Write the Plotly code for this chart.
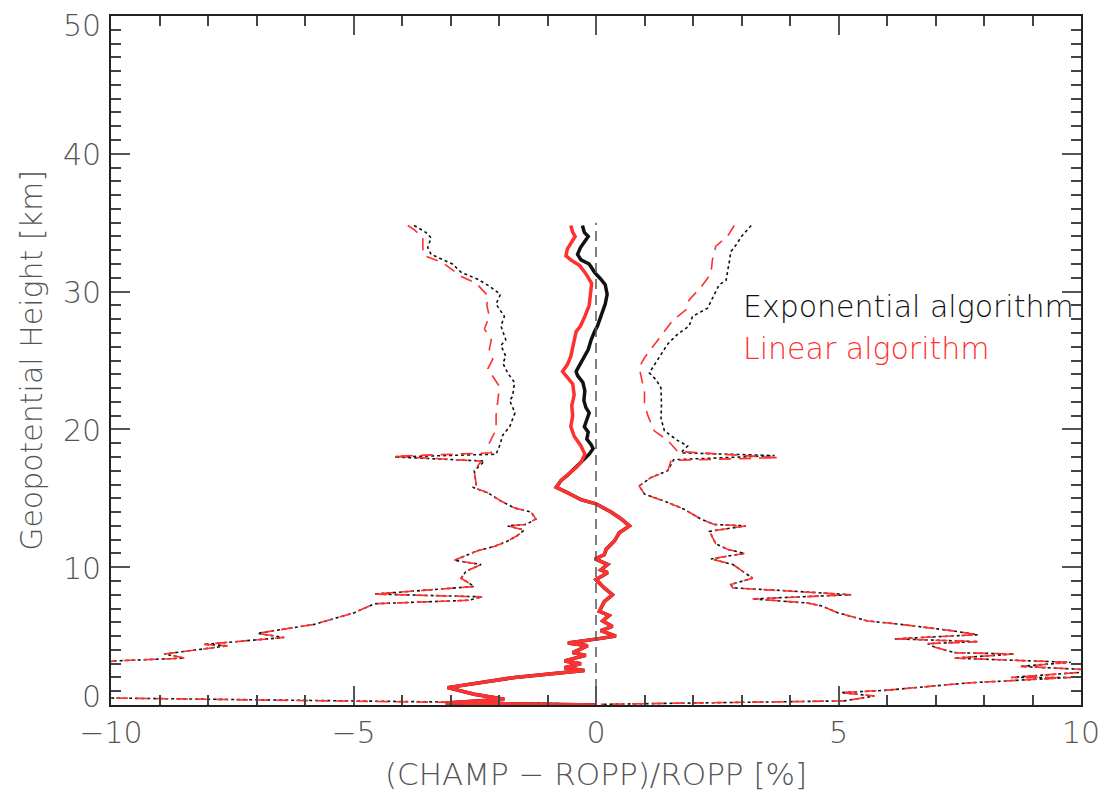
import plotly.graph_objects as go

# ---------------- data ----------------
# Mean profiles, upper part (differs between algorithms)
exp_mean_up_x = [-0.28,-0.24,-0.16,-0.32,-0.38,-0.31,-0.14,-0.03,0.10,0.19,0.23,0.19,0.10,0.03,-0.03,-0.10,-0.16,-0.24,-0.31,-0.41,-0.38,-0.27,-0.23,-0.25,-0.21,-0.14,-0.19,-0.24,-0.16,-0.19,-0.10,-0.06,-0.14]
exp_mean_up_y = [34.8,34.3,34.0,33.2,32.7,32.3,32.0,31.4,30.9,30.5,29.8,29.1,28.2,27.5,27.1,26.5,25.8,25.3,24.8,24.2,23.9,23.4,22.8,22.1,21.6,21.2,20.7,20.2,19.8,19.3,18.9,18.6,18.2]
lin_mean_up_x = [-0.52,-0.48,-0.43,-0.59,-0.62,-0.52,-0.34,-0.21,-0.09,-0.12,-0.14,-0.23,-0.32,-0.41,-0.46,-0.52,-0.59,-0.69,-0.62,-0.48,-0.45,-0.50,-0.48,-0.52,-0.45,-0.31,-0.23]
lin_mean_up_y = [34.8,34.3,34.0,33.1,32.6,32.3,31.9,31.3,30.6,29.7,29.0,28.2,27.5,27.1,26.3,25.3,24.7,24.2,23.9,23.3,22.5,21.7,21.0,20.2,19.5,18.8,18.2]
# Mean profile, lower part (both algorithms nearly identical)
mean_low_x = [-0.31,-0.42,-0.58,-0.72,-0.82,-0.58,-0.31,0.0,0.31,0.52,0.69,0.48,0.38,0.21,0.17,-0.02,0.24,0.10,0.24,0.0,0.17,0.34,0.17,0.07,0.27,0.14,0.34,0.10,0.41,0.03,-0.58,-0.17,-0.48,-0.21,-0.65,-0.31,-0.65,-0.24,-1.68,-3.06,-2.51,-1.89,-3.1,0.0]
mean_low_y = [17.6,17.2,16.7,16.3,15.8,15.4,14.9,14.6,14.0,13.5,13.0,12.5,11.9,11.3,10.9,10.6,10.2,9.8,9.6,9.1,8.5,8.0,7.5,6.8,6.5,6.1,5.7,5.4,5.0,4.8,4.5,4.3,3.8,3.6,3.2,3.0,2.7,2.5,2.0,1.26,0.78,0.41,0.15,0.0]

# Standard deviation envelopes, left side
exp_left_up_x = [-3.75,-3.51,-3.40,-3.47,-3.40,-3.16,-2.96,-2.78,-2.44,-2.20,-1.97,-2.06,-1.89,-1.96,-1.86,-1.96,-1.86,-1.92,-1.82,-1.68,-1.72,-1.78,-1.67,-1.78,-1.92,-1.99,-2.06,-4.16,-2.30]
exp_left_up_y = [34.8,34.3,33.9,33.2,32.7,32.3,32.0,31.4,30.9,30.4,29.8,29.1,28.2,27.5,26.5,26.1,25.3,24.8,24.1,23.4,22.4,22.1,21.2,20.2,19.6,18.8,18.2,18.0,17.7]
lin_left_up_x = [-3.88,-3.75,-3.57,-3.57,-3.54,-3.16,-2.78,-2.47,-2.23,-2.25,-2.20,-2.30,-2.16,-2.20,-2.13,-2.23,-1.99,-2.03,-2.06,-2.06,-2.20,-2.16,-4.16,-2.37]
lin_left_up_y = [34.8,34.5,33.9,33.1,32.6,32.1,31.1,30.6,29.7,29.0,28.2,27.3,26.5,25.8,25.1,24.4,23.1,21.9,21.0,20.0,19.0,18.3,18.05,17.7]
left_low_x = [-2.51,-2.47,-2.54,-2.23,-1.96,-1.68,-1.34,-1.24,-1.44,-1.82,-1.48,-1.62,-1.82,-2.10,-2.44,-2.92,-2.37,-2.68,-2.78,-2.51,-4.57,-2.35,-2.62,-4.57,-4.98,-5.81,-6.98,-6.43,-8.08,-7.59,-8.90,-8.49,-9.93,-10.6,-10.6,-9.93,-1.96,0.0]
left_low_y = [17.0,16.0,15.8,15.4,14.8,14.3,14.0,13.5,13.1,13.0,12.7,12.3,11.9,11.5,11.2,10.5,10.2,9.7,9.2,8.6,8.05,7.85,7.6,7.35,6.7,5.85,5.2,4.9,4.4,4.3,3.7,3.4,3.2,2.9,0.6,0.5,0.17,0.05]

# Standard deviation envelopes, right side
exp_right_up_x = [3.20,3.0,2.89,2.78,2.75,2.71,2.68,2.54,2.37,2.30,1.99,1.92,1.68,1.48,1.17,1.10,1.24,1.34,1.35,1.34,1.41,1.68,1.89,1.75,3.68,1.60]
exp_right_up_y = [34.8,34.0,33.4,32.9,32.2,31.4,30.8,30.5,29.3,28.8,28.2,27.5,26.9,26.2,24.5,24.1,23.6,23.0,21.8,20.8,19.9,19.2,18.8,18.3,18.1,17.8]
lin_right_up_x = [2.85,2.71,2.47,2.40,2.37,2.16,1.92,1.86,1.58,1.34,1.0,0.89,0.93,1.0,1.0,1.07,1.20,1.48,1.68,3.75,1.55]
lin_right_up_y = [34.8,34.0,33.3,32.3,31.3,30.3,29.4,28.7,27.9,26.8,25.2,24.5,23.8,22.7,21.8,21.0,19.9,19.2,18.4,17.95,17.75]
right_low_x = [1.48,1.13,0.89,1.0,1.48,1.82,2.16,2.44,3.09,2.34,2.47,2.71,3.06,2.37,2.82,3.23,2.78,2.82,3.88,5.26,3.23,4.36,4.64,4.98,5.60,6.29,7.32,7.87,6.15,7.87,6.84,6.98,7.39,8.62,7.39,8.76,9.79,8.76,10.5,8.56,9.79,7.66,5.95,5.05,5.74,5.12,0.1]
right_low_y = [17.0,16.5,15.9,15.3,14.7,14.2,13.5,13.1,13.0,12.6,11.7,11.3,11.0,10.6,10.2,9.2,8.75,8.5,8.3,8.0,7.7,7.4,7.2,6.7,6.1,5.85,5.4,5.1,4.8,4.6,4.45,4.2,3.8,3.7,3.4,3.2,3.1,2.8,2.5,2.0,2.0,1.6,1.06,0.9,0.65,0.3,0.05]

x_ticks = [-10, -5, 0, 5, 10]
x_ticktext = ["\u221210", "\u22125", "0", "5", "10"]
y_ticks = [0, 10, 20, 30, 40, 50]
legend_labels = ["Exponential algorithm", "Linear algorithm"]

BLACK = "#111111"
RED = "#ff3030"
GREY = "#555555"
FONT = "DejaVu Sans"
W = 200  # extra-light weight

fig = go.Figure()

# std envelopes
std_specs = [
    (exp_left_up_x + left_low_x, exp_left_up_y + left_low_y, BLACK, "dot"),
    (exp_right_up_x + right_low_x, exp_right_up_y + right_low_y, BLACK, "dot"),
    (lin_left_up_x + left_low_x, lin_left_up_y + left_low_y, RED, "12px,8px"),
    (lin_right_up_x + right_low_x, lin_right_up_y + right_low_y, RED, "12px,8px"),
]
for xs, ys, col, dash in std_specs:
    fig.add_trace(go.Scatter(x=xs, y=ys, mode="lines",
                             line=dict(color=col, width=1.6, dash=dash),
                             showlegend=False, hoverinfo="skip"))

# mean lines
fig.add_trace(go.Scatter(x=exp_mean_up_x + mean_low_x, y=exp_mean_up_y + mean_low_y,
                         mode="lines", line=dict(color=BLACK, width=3.5),
                         showlegend=False))
fig.add_trace(go.Scatter(x=lin_mean_up_x + mean_low_x, y=lin_mean_up_y + mean_low_y,
                         mode="lines", line=dict(color=RED, width=3.5),
                         showlegend=False))

# zero line
fig.add_shape(type="line", x0=0, x1=0, y0=0, y1=35, xref="x", yref="y",
              line=dict(color=GREY, width=1.5, dash="10px,6px"))

# y tick labels (end labels pulled inward, as in the reference)
for v in y_ticks:
    shift = -9 if v == y_ticks[-1] else (9 if v == y_ticks[0] else -1)
    fig.add_annotation(x=0, y=v, xref="paper", yref="y", text=str(v),
                       showarrow=False, xanchor="right", yanchor="middle",
                       xshift=-8, yshift=shift,
                       font=dict(family=FONT, size=30, color=GREY, weight=W))

# legend text
fig.add_annotation(x=0.649, y=28.9, xref="paper", yref="y", text=legend_labels[0],
                   showarrow=False, xanchor="left", yanchor="middle",
                   font=dict(family=FONT, size=30, color="#111111", weight=W))
fig.add_annotation(x=0.649, y=25.9, xref="paper", yref="y", text=legend_labels[1],
                   showarrow=False, xanchor="left", yanchor="middle",
                   font=dict(family=FONT, size=30, color=RED, weight=W))

axis_common = dict(
    showline=True, linecolor="#222222", linewidth=1.5, mirror="allticks",
    ticks="inside", ticklen=19, tickwidth=1.5, tickcolor=GREY,
    showgrid=False, zeroline=False, automargin=False,
    ticklabeloverflow="allow",
)
fig.update_xaxes(range=[-10, 10], tickvals=x_ticks, ticktext=x_ticktext,
                 minor=dict(dtick=1, ticklen=10, tickwidth=1.5, tickcolor="#444444", ticks="inside"),
                 tickfont=dict(family=FONT, size=30, color=GREY, weight=W),
                 title=dict(text="(CHAMP \u2212 ROPP)/ROPP [%]", standoff=15,
                            font=dict(family=FONT, size=31, color=GREY, weight=W)),
                 ticklabelstandoff=0,
                 **axis_common)
fig.update_yaxes(range=[0, 50], tickvals=y_ticks, showticklabels=False,
                 minor=dict(dtick=1, ticklen=10, tickwidth=1.5, tickcolor="#444444", ticks="inside"),
                 title=dict(text="Geopotential Height [km]", standoff=58,
                            font=dict(family=FONT, size=30, color=GREY, weight=W)),
                 **axis_common)

fig.update_layout(
    width=1109, height=796,
    margin=dict(l=103, r=36, t=8, b=99),
    plot_bgcolor="white", paper_bgcolor="white",
    showlegend=False,
)

fig.write_html("out.html")
